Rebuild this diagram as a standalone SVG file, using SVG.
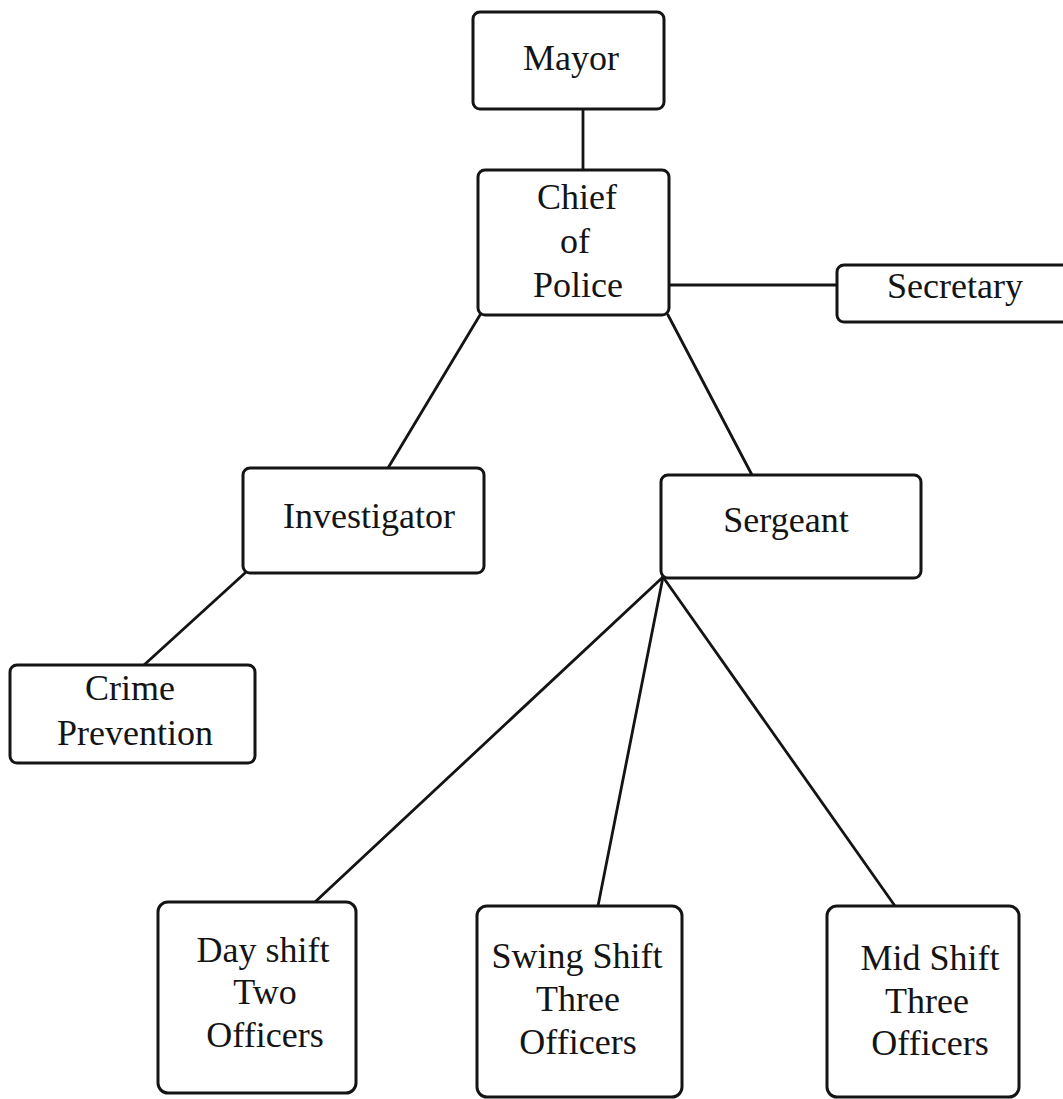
<svg xmlns="http://www.w3.org/2000/svg" width="1063" height="1099" viewBox="0 0 1063 1099">
<style>
.box{fill:#fff;stroke:#141414;stroke-width:3}
.lbl{font-family:"Liberation Serif","Times New Roman",serif;font-size:36px;fill:#141414;text-anchor:middle}
.conn line{stroke:#141414;stroke-width:2.8;stroke-linecap:round}
</style>
<rect width="1063" height="1099" fill="#fff"/>
<g class="conn" id="connectors">
<line x1="583" y1="109" x2="583" y2="170"/>
<line x1="669" y1="285" x2="837" y2="285"/>
<line x1="480" y1="315" x2="388" y2="468"/>
<line x1="668" y1="315" x2="752" y2="475"/>
<line x1="245" y1="573" x2="144" y2="665"/>
<line x1="663" y1="577" x2="315" y2="902"/>
<line x1="663" y1="577" x2="598" y2="906"/>
<line x1="663" y1="577" x2="895" y2="906"/>
</g>
<g id="mayor"><rect class="box" x="473" y="12" width="191" height="97" rx="7"/><text class="lbl" x="571" y="70">Mayor</text></g>
<g id="chief"><rect class="box" x="478" y="170" width="191" height="145" rx="7"/><text class="lbl" x="577" y="209">Chief</text><text class="lbl" x="575" y="253">of</text><text class="lbl" x="578" y="297">Police</text></g>
<g id="secretary"><rect class="box" x="837" y="265" width="240" height="57" rx="7"/><text class="lbl" x="955" y="298">Secretary</text></g>
<g id="investigator"><rect class="box" x="243" y="468" width="241" height="105" rx="7"/><text class="lbl" x="369" y="528">Investigator</text></g>
<g id="sergeant"><rect class="box" x="661" y="475" width="260" height="103" rx="7"/><text class="lbl" x="786" y="532">Sergeant</text></g>
<g id="crime-prevention"><rect class="box" x="10" y="665" width="245" height="98" rx="7"/><text class="lbl" x="130" y="700">Crime</text><text class="lbl" x="135" y="745">Prevention</text></g>
<g id="day-shift"><rect class="box" x="158" y="902" width="198" height="191" rx="10"/><text class="lbl" x="263" y="962">Day shift</text><text class="lbl" x="265" y="1004">Two</text><text class="lbl" x="265" y="1047">Officers</text></g>
<g id="swing-shift"><rect class="box" x="477" y="906" width="205" height="191" rx="10"/><text class="lbl" x="577" y="968">Swing Shift</text><text class="lbl" x="578" y="1011">Three</text><text class="lbl" x="578" y="1054">Officers</text></g>
<g id="mid-shift"><rect class="box" x="827" y="906" width="192" height="191" rx="10"/><text class="lbl" x="930" y="970">Mid Shift</text><text class="lbl" x="927" y="1013">Three</text><text class="lbl" x="930" y="1055">Officers</text></g>
</svg>
